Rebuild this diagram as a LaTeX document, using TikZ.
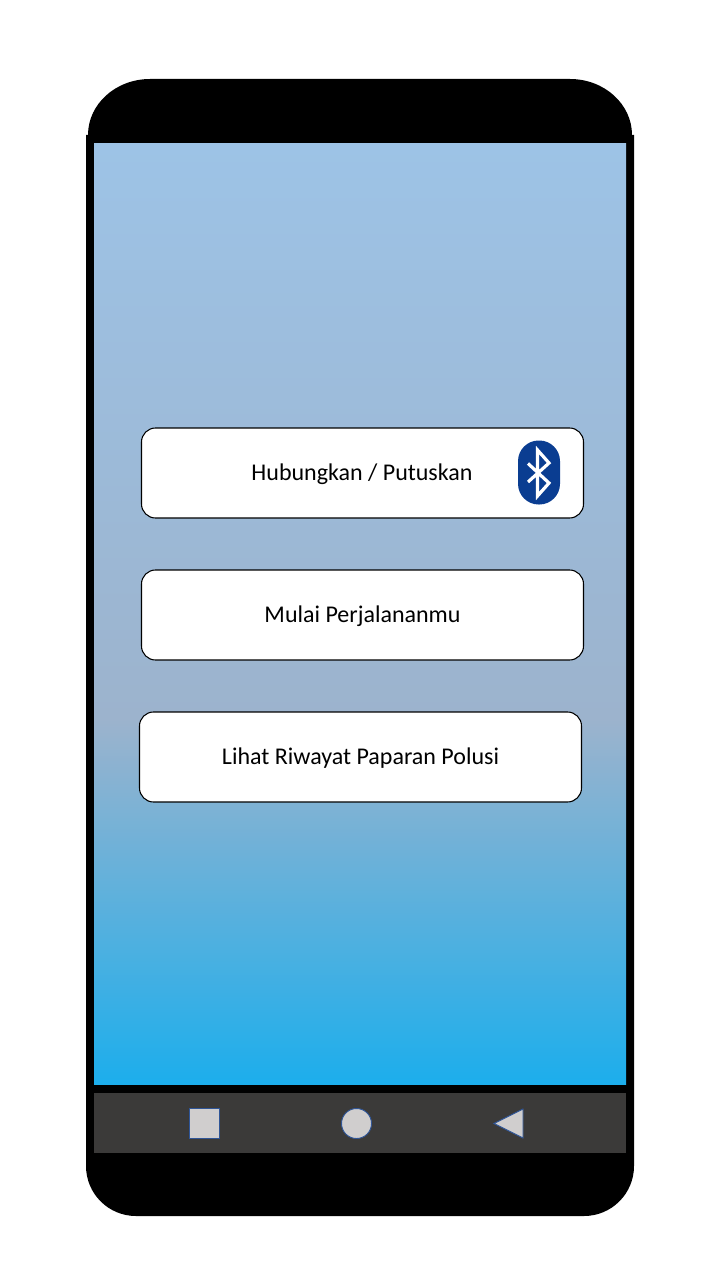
\documentclass[tikz,border=0pt]{standalone}
\usepackage{fontspec}
\setmainfont{Carlito}
\definecolor{gA}{HTML}{9DC3E6}
\definecolor{gB}{HTML}{9CB3CD}
\definecolor{gC}{HTML}{1CAEEC}
\definecolor{barcol}{HTML}{3B3A39}
\definecolor{iconfill}{HTML}{D0CECE}
\definecolor{iconline}{HTML}{2F5597}
\definecolor{btblue}{HTML}{0A3D91}
% path box maps onto 25bp..75bp. Screen spans y 143..1085; stop at y=720
\pgfdeclareverticalshading{screengrad}{100bp}{color(0bp)=(gC); color(25bp)=(gC); color(44.4bp)=(gB); color(75bp)=(gA); color(100bp)=(gA)}
\tikzset{
  x=0.75pt,y=-0.75pt,
  btn/.style={draw=black,line width=0.8pt,fill=white,rounded corners=10.5pt,minimum width=331.5pt,minimum height=67.5pt,inner sep=0pt},
  btntext/.style={font=\fontsize{18pt}{22pt}\selectfont,inner sep=0pt,anchor=base},
  navicon/.style={draw=iconline,line width=0.7pt,fill=iconfill},
}
\begin{document}
\begin{tikzpicture}
\useasboundingbox (0,0) rectangle (720,1280);
\fill[white] (0,0) rectangle (720,1280);
% body
\fill[black] (86,135) -- (88,135) arc[start angle=180,end angle=270,x radius=62,y radius=56] -- (570,79) arc[start angle=270,end angle=360,x radius=62,y radius=56] -- (634,135) -- (634,1166) arc[start angle=0,end angle=90,radius=50] -- (136,1216) arc[start angle=90,end angle=180,radius=50] -- cycle;
\path[shading=screengrad] (94,143.3) rectangle (626,1084.7);
\fill[barcol] (94,1093) rectangle (626,1153);
% nav icons
\node[navicon,minimum size=22pt,inner sep=0pt] (navsq) at (204.5,1123.5) {};
\node[navicon,circle,minimum size=22.5pt,inner sep=0pt] (navci) at (356.5,1123.5) {};
\draw[navicon] (494,1123.5) -- (523,1109) -- (523,1138) -- cycle;
% buttons
\node[btn] (b1) at (362.5,473) {};
\node[btn] (b2) at (362.5,615) {};
\node[btn] (b3) at (360.5,757) {};
\node[btntext] (t1) at (362,480) {Hubungkan / Putuskan};
\node[btntext] (t2) at (362.5,622) {Mulai Perjalananmu};
\node[btntext] (t3) at (360.5,764) {Lihat Riwayat Paparan Polusi};
% bluetooth
\fill[btblue,rounded corners=15.5pt] (518,440.5) rectangle (560,504.5);
\draw[white,line width=2.4pt,line join=miter,miter limit=10] (528,463.5) -- (549,483) -- (537.5,496) -- (537.5,450) -- (549,463) -- (528,482);
\end{tikzpicture}
\end{document}
